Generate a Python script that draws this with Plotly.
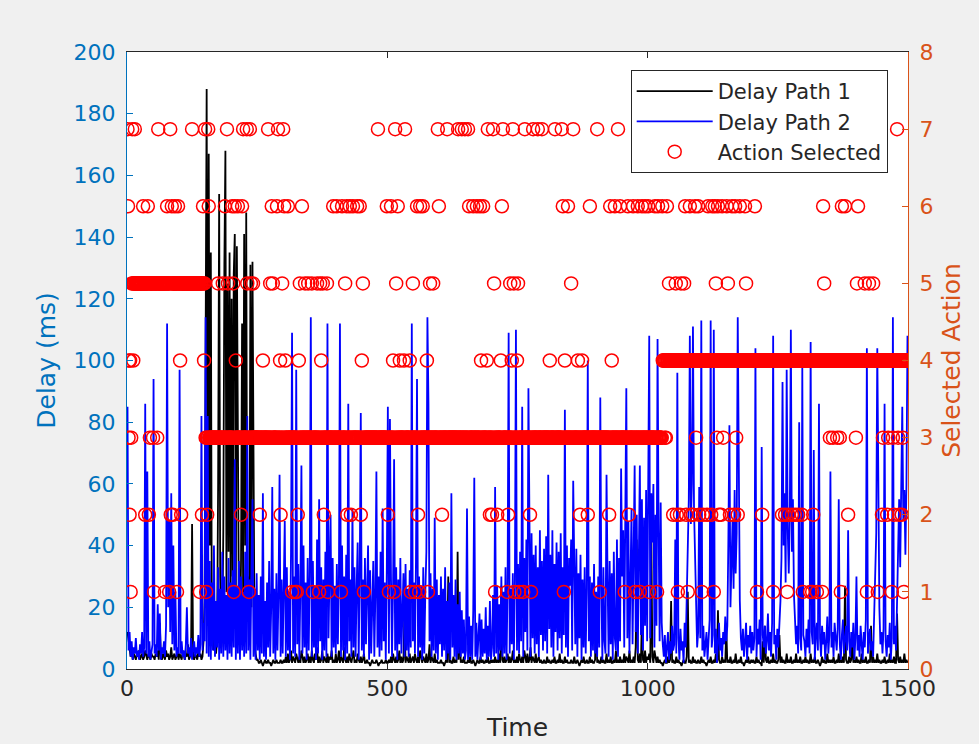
import plotly.graph_objects as go

# ---------------- data ----------------
# delay samples, one every 2 time steps (t = 1, 3, 5, ... 1499)
path1_delay = [
    12, 9, 5, 4, 6, 3, 5, 4, 3, 5, 4, 6, 3, 4, 5, 3, 4, 6, 4, 3, 5, 4, 3, 5, 4,
    4, 3, 5, 4, 6, 3, 15, 4, 3, 5, 4, 3, 6, 4, 5, 3, 4, 7, 3, 4, 5, 3, 4, 6, 3,
    5, 4, 3, 6, 4, 3, 5, 4, 8, 3, 4, 5, 47, 4, 3, 5, 4, 3, 6, 4, 5, 3, 4, 9, 22,
    133, 188, 35, 167, 40, 135, 8, 12, 6, 10, 5, 9, 60, 154, 30, 7, 11, 45, 131, 168, 25, 125, 38, 135, 20,
    120, 30, 128, 141, 22, 137, 50, 15, 8, 35, 112, 25, 141, 40, 148, 18, 30, 10, 131, 20, 132, 40, 8, 5, 3,
    3, 2, 2, 3, 2, 1, 2, 3, 2, 2, 3, 2, 2, 1, 2, 3, 2, 2, 3, 2, 2, 2, 3, 2, 2,
    3, 2, 4, 2, 5, 2, 3, 6, 2, 4, 3, 2, 5, 3, 2, 4, 2, 6, 3, 2, 4, 2, 3, 5, 2,
    4, 2, 6, 3, 2, 5, 3, 7, 2, 4, 2, 3, 6, 2, 4, 3, 2, 5, 2, 4, 3, 6, 2, 3, 2,
    5, 2, 3, 6, 2, 4, 3, 2, 7, 3, 2, 4, 2, 5, 3, 2, 4, 6, 2, 3, 2, 5, 3, 2, 4,
    2, 3, 5, 2, 2, 3, 2, 2, 1, 2, 3, 2, 2, 2, 3, 2, 1, 2, 2, 3, 2, 2, 2, 3, 2,
    2, 3, 2, 4, 2, 5, 3, 2, 4, 2, 3, 6, 2, 4, 2, 3, 18, 2, 4, 3, 2, 5, 2, 3, 4,
    2, 5, 3, 2, 4, 2, 6, 3, 2, 4, 3, 2, 5, 2, 3, 8, 2, 4, 3, 2, 5, 2, 3, 2, 2,
    2, 3, 2, 2, 1, 2, 3, 2, 30, 2, 3, 2, 2, 4, 2, 3, 2, 38, 3, 17, 2, 3, 2, 4, 2,
    2, 2, 3, 2, 4, 2, 2, 3, 2, 1, 2, 3, 2, 2, 4, 2, 3, 2, 2, 3, 2, 4, 2, 2, 3,
    2, 3, 2, 4, 2, 3, 2, 5, 2, 27, 3, 2, 4, 2, 3, 5, 2, 4, 2, 3, 6, 2, 3, 2, 4,
    2, 5, 3, 2, 4, 2, 6, 3, 2, 5, 2, 3, 7, 2, 4, 3, 2, 5, 2, 3, 4, 2, 3, 2, 2,
    3, 2, 2, 4, 2, 3, 2, 2, 3, 2, 4, 2, 2, 3, 2, 5, 2, 3, 2, 2, 4, 2, 3, 2, 2,
    2, 3, 2, 2, 4, 2, 2, 3, 2, 1, 2, 3, 2, 4, 2, 2, 3, 2, 2, 4, 2, 3, 2, 2, 3,
    21, 2, 3, 2, 2, 4, 2, 3, 2, 2, 5, 2, 3, 2, 4, 2, 2, 3, 2, 6, 2, 3, 2, 4, 2,
    3, 2, 5, 2, 4, 3, 2, 6, 2, 3, 2, 4, 2, 7, 42, 3, 2, 5, 2, 17, 3, 2, 6, 2, 4,
    3, 5, 2, 45, 4, 2, 6, 3, 2, 4, 2, 3, 2, 2, 1, 2, 3, 2, 2, 4, 2, 3, 22, 2, 3,
    2, 2, 4, 2, 3, 2, 2, 1, 2, 3, 2, 2, 4, 25, 2, 3, 2, 2, 4, 2, 3, 2, 2, 3, 2,
    2, 4, 2, 3, 2, 2, 1, 2, 3, 2, 4, 2, 2, 3, 2, 5, 2, 19, 3, 2, 2, 4, 2, 3, 2,
    13, 2, 3, 2, 4, 2, 2, 3, 2, 5, 2, 2, 3, 2, 4, 2, 2, 1, 2, 3, 2, 4, 2, 2, 3,
    2, 3, 2, 2, 4, 2, 3, 2, 2, 1, 9, 2, 14, 3, 2, 4, 2, 2, 3, 2, 5, 2, 3, 2, 2,
    3, 11, 2, 4, 2, 3, 2, 2, 5, 2, 3, 2, 4, 2, 2, 3, 2, 5, 2, 3, 2, 4, 2, 2, 3,
    2, 4, 2, 3, 2, 2, 5, 2, 3, 2, 4, 2, 2, 3, 2, 1, 2, 4, 2, 3, 2, 2, 5, 2, 3,
    2, 3, 2, 4, 2, 2, 3, 2, 5, 2, 3, 2, 4, 2, 27, 3, 2, 2, 4, 2, 3, 12, 2, 3, 2,
    4, 2, 3, 2, 2, 5, 2, 3, 2, 4, 2, 2, 3, 2, 14, 2, 4, 2, 3, 2, 5, 2, 3, 2, 2,
    3, 2, 4, 2, 2, 3, 2, 5, 2, 3, 2, 4, 2, 2, 18, 3, 2, 4, 2, 3, 2, 5, 2, 3, 2,
]

path2_delay = [
    85, 6, 12, 4, 9, 3, 7, 5, 10, 4, 6, 3, 8, 5, 12, 4, 7, 86, 5, 64, 4, 9, 3, 6, 8,
    94, 5, 8, 4, 21, 6, 18, 3, 7, 5, 9, 4, 14, 112, 20, 48, 12, 57, 8, 40, 6, 25, 4, 7, 5,
    97, 5, 9, 4, 6, 3, 8, 20, 5, 7, 4, 10, 3, 6, 9, 4, 7, 5, 11, 4, 8, 82, 6, 15, 9,
    114, 5, 82, 4, 35, 3, 28, 6, 40, 4, 22, 7, 33, 3, 26, 5, 38, 4, 30, 6, 24, 3, 36, 5, 28,
    4, 32, 7, 68, 3, 27, 5, 35, 3, 30, 6, 25, 4, 38, 5, 82, 6, 29, 3, 33, 55, 4, 26, 3, 31,
    6, 24, 3, 30, 5, 57, 4, 22, 3, 28, 7, 35, 4, 20, 59, 5, 26, 3, 31, 6, 24, 63, 4, 29, 5,
    27, 48, 4, 33, 6, 25, 3, 38, 109, 5, 30, 4, 97, 8, 34, 3, 26, 66, 5, 40, 7, 28, 3, 36, 6,
    30, 114, 4, 35, 7, 27, 3, 42, 5, 55, 9, 33, 3, 29, 6, 38, 4, 112, 10, 31, 50, 4, 36, 7, 27,
    5, 34, 8, 28, 112, 4, 40, 6, 30, 3, 37, 5, 86, 9, 29, 4, 52, 7, 33, 4, 26, 41, 3, 31, 83,
    6, 29, 4, 36, 8, 25, 40, 3, 32, 5, 27, 35, 4, 24, 64, 7, 30, 4, 38, 6, 52, 9, 28, 3, 33,
    85, 5, 81, 30, 4, 27, 68, 6, 33, 3, 29, 8, 36, 5, 24, 31, 4, 34, 6, 26, 4, 32, 7, 112, 9,
    28, 5, 35, 94, 4, 30, 7, 27, 3, 33, 5, 25, 38, 114, 86, 9, 31, 4, 26, 6, 49, 5, 29, 3, 24,
    8, 30, 4, 26, 6, 33, 3, 22, 5, 28, 3, 57, 7, 24, 4, 29, 3, 21, 5, 25, 4, 19, 5, 16, 3,
    6, 52, 3, 17, 4, 14, 3, 19, 62, 4, 15, 3, 12, 18, 3, 16, 4, 13, 5, 20, 3, 14, 4, 22, 3,
    7, 24, 4, 59, 5, 27, 3, 21, 6, 30, 4, 25, 5, 33, 3, 28, 109, 5, 26, 8, 31, 3, 29, 110, 6,
    34, 5, 38, 9, 85, 4, 36, 12, 42, 6, 91, 31, 4, 44, 10, 37, 5, 40, 8, 33, 4, 45, 11, 35, 6,
    39, 9, 43, 5, 63, 13, 37, 7, 45, 4, 34, 12, 41, 6, 38, 10, 44, 5, 33, 11, 84, 7, 40, 4, 36,
    27, 42, 6, 61, 35, 8, 39, 4, 31, 10, 37, 3, 29, 7, 33, 5, 26, 100, 9, 30, 4, 28, 6, 34, 5,
    25, 4, 30, 7, 88, 27, 3, 33, 9, 5, 63, 29, 4, 35, 8, 31, 3, 38, 10, 6, 42, 4, 36, 9, 65,
    30, 45, 7, 40, 91, 10, 48, 5, 38, 52, 8, 44, 66, 12, 50, 5, 47, 66, 11, 55, 6, 49, 14, 58, 9,
    53, 108, 10, 57, 41, 60, 7, 50, 14, 107, 45, 9, 54, 15, 8, 4, 11, 2, 7, 12, 3, 9, 5, 14, 6,
    8, 42, 5, 96, 10, 3, 13, 6, 9, 2, 15, 7, 24, 38, 55, 108, 47, 60, 111, 52, 35, 18, 7, 12, 59,
    10, 113, 6, 14, 4, 9, 12, 3, 8, 16, 113, 7, 11, 110, 5, 13, 2, 9, 15, 6, 10, 4, 12, 8, 17,
    9, 14, 42, 79, 20, 35, 48, 26, 58, 31, 44, 114, 53, 22, 10, 6, 13, 4, 9, 15, 3, 11, 7, 14, 5,
    12, 6, 10, 104, 4, 13, 8, 16, 3, 72, 11, 7, 14, 5, 9, 18, 6, 12, 4, 15, 108, 8, 11, 3, 13,
    7, 15, 22, 36, 93, 40, 57, 28, 97, 45, 31, 50, 110, 38, 55, 24, 12, 8, 14, 5, 80, 10, 6, 98, 11,
    9, 4, 13, 7, 16, 5, 106, 12, 8, 71, 3, 11, 15, 6, 86, 10, 4, 14, 8, 12, 3, 9, 17, 5, 11,
    64, 7, 12, 4, 15, 9, 6, 13, 55, 8, 3, 11, 16, 5, 10, 14, 6, 45, 9, 4, 12, 7, 15, 3, 10,
    30, 6, 11, 4, 14, 8, 3, 12, 7, 16, 104, 5, 10, 13, 6, 9, 4, 15, 28, 44, 104, 57, 20, 8, 12,
    5, 13, 86, 9, 4, 11, 7, 15, 3, 10, 114, 8, 14, 6, 22, 40, 55, 33, 61, 85, 48, 58, 37, 60, 108,
]

delay_time = list(range(1, 1500, 2))

# selected action: greedy action per phase, plus exploratory picks
phase_start = [1, 151, 1029]
phase_action = [5, 3, 4]

explore_7 = [1, 10, 15, 60, 83, 125, 150, 156, 192, 223, 230, 236, 271, 290, 300, 482, 515, 534,
             597, 615, 636, 643, 649, 655, 693, 703, 722, 741, 764, 780, 789, 797, 822, 835, 857,
             903, 943, 1479]
explore_6 = [2, 31, 40, 77, 86, 92, 98, 146, 157, 188, 202, 207, 213, 221, 278, 288, 302, 309, 336,
             396, 403, 413, 422, 428, 434, 442, 447, 499, 507, 520, 557, 563, 568, 599, 657, 665,
             672, 678, 684, 720, 837, 847, 889, 928, 937, 947, 962, 972, 981, 989, 995, 1001, 1014,
             1020, 1028, 1037, 1072, 1081, 1091, 1097, 1116, 1124, 1129, 1135, 1143, 1152, 1162,
             1168, 1177, 1187, 1206, 1337, 1373, 1379, 1404]
explore_5 = [175, 184, 194, 204, 231, 238, 242, 275, 280, 298, 332, 342, 348, 355, 365, 371, 376,
             384, 419, 453, 517, 549, 582, 588, 705, 736, 743, 751, 853, 1041, 1054, 1064, 1070,
             1131, 1154, 1189, 1339, 1402, 1417, 1425, 1433]
explore_4 = [4, 6, 12, 102, 148, 209, 261, 294, 304, 330, 373, 451, 511, 524, 532, 543, 576, 680,
             691, 718, 739, 749, 812, 841, 866, 874, 931]
explore_3 = [3, 8, 44, 50, 58, 1033, 1035, 1093, 1133, 1145, 1170, 1350, 1356, 1364, 1369, 1400,
             1452, 1462, 1471, 1481, 1490]
explore_2 = [5, 35, 42, 84, 88, 104, 144, 154, 219, 255, 295, 328, 378, 423, 430, 449, 501, 559,
             605, 697, 701, 711, 732, 774, 870, 885, 926, 964, 1049, 1056, 1062, 1074, 1083, 1087,
             1099, 1106, 1114, 1122, 1137, 1141, 1158, 1166, 1173, 1220, 1258, 1264, 1270, 1277,
             1283, 1289, 1296, 1318, 1385, 1450, 1460, 1473, 1483, 1488]
explore_1 = [7, 52, 73, 81, 96, 140, 152, 205, 234, 317, 323, 326, 357, 369, 386, 411, 455, 503,
             513, 545, 553, 561, 578, 707, 730, 744, 753, 761, 776, 839, 908, 956, 976, 985, 1003,
             1018, 1058, 1077, 1104, 1127, 1210, 1241, 1268, 1298, 1312, 1316, 1325, 1335, 1371,
             1421, 1442, 1469, 1492]

action_time = list(range(1, 1501))

# ---------------- build the action sequence ----------------
actions = []
for t in action_time:
    a = phase_action[0]
    for s, pa in zip(phase_start, phase_action):
        if t >= s:
            a = pa
    actions.append(a)

for level, times in [(7, explore_7), (6, explore_6), (5, explore_5), (4, explore_4),
                     (3, explore_3), (2, explore_2), (1, explore_1)]:
    for t in times:
        actions[t - 1] = level

# ---------------- figure ----------------
FONT = "DejaVu Sans"
BLUE_AX = "#0072BD"
ORANGE_AX = "#D95319"
DARK = "#262626"

fig = go.Figure()
fig.add_trace(go.Scatter(
    x=delay_time, y=path1_delay, mode="lines", name="Delay Path 1",
    line=dict(color="black", width=1.8),
))
fig.add_trace(go.Scatter(
    x=delay_time, y=path2_delay, mode="lines", name="Delay Path 2",
    line=dict(color="blue", width=1.8),
))
fig.add_trace(go.Scatter(
    x=action_time, y=actions, mode="markers", name="Action Selected", yaxis="y2",
    marker=dict(symbol="circle-open", size=13, color="red", line=dict(width=1.5, color="red")),
))

fig.update_layout(
    width=979, height=744,
    margin=dict(l=127, r=71, t=52, b=75),
    paper_bgcolor="#f0f0f0",
    plot_bgcolor="white",
    font=dict(family=FONT, size=22, color=DARK),
    showlegend=True,
    legend=dict(
        x=0.974, xanchor="right", y=0.971, yanchor="top",
        bgcolor="white", bordercolor=DARK, borderwidth=1,
        font=dict(family=FONT, size=21, color=DARK),
        itemwidth=76, tracegroupgap=0,
    ),
    xaxis=dict(
        range=[0, 1500], tickvals=[0, 500, 1000, 1500],
        ticks="inside", ticklen=6, tickcolor=DARK,
        showline=True, linecolor=DARK, linewidth=1, mirror="ticks",
        showgrid=False, zeroline=False, automargin=False,
        tickfont=dict(family=FONT, size=22, color=DARK),
        title=dict(text="Time", font=dict(family=FONT, size=25, color=DARK), standoff=18),
    ),
    yaxis=dict(
        range=[0, 200], dtick=20,
        ticks="inside", ticklen=6, tickcolor=BLUE_AX,
        showline=True, linecolor=BLUE_AX, linewidth=1,
        showgrid=False, zeroline=False, automargin=False,
        tickfont=dict(family=FONT, size=22, color=BLUE_AX),
        ticklabelstandoff=6,
        title=dict(text="Delay (ms)", font=dict(family=FONT, size=25, color=BLUE_AX), standoff=10),
    ),
    yaxis2=dict(
        overlaying="y", side="right",
        range=[0, 8], dtick=1,
        ticks="inside", ticklen=6, tickcolor=ORANGE_AX,
        showline=True, linecolor=ORANGE_AX, linewidth=1,
        showgrid=False, zeroline=False, automargin=False,
        tickfont=dict(family=FONT, size=22, color=ORANGE_AX),
        ticklabelstandoff=6,
        title=dict(text="Selected Action", font=dict(family=FONT, size=25, color=ORANGE_AX), standoff=10),
    ),
)

fig.write_html("out.html")
